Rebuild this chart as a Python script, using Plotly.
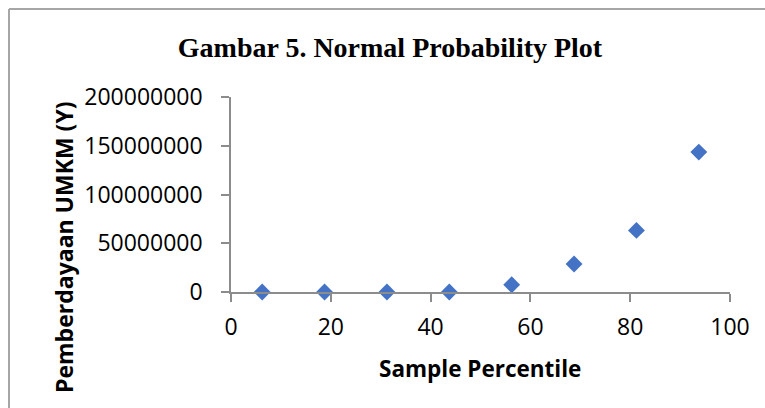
import plotly.graph_objects as go

# Data
percentiles = [6.25, 18.75, 31.25, 43.75, 56.25, 68.75, 81.25, 93.75]
values = [0, 0, 0, 0, 7500000, 28700000, 63200000, 143500000]
x_ticks = [0, 20, 40, 60, 80, 100]
y_ticks = [0, 50000000, 100000000, 150000000, 200000000]
y_tick_labels = ["0", "50000000", "100000000", "150000000", "200000000"]

W, H = 765, 408
# plot area in screen pixels: x 231..730, y 97..292
L, T = 231, 97
R = W - 730
B = H - 292
pw, ph = W - L - R, H - T - B

def sx(px):
    return (px - L) / pw

def sy(py):
    return (H - B - py) / ph

fig = go.Figure()
fig.add_trace(go.Scatter(
    x=percentiles, y=values, mode="markers",
    marker=dict(symbol="diamond", size=13, color="#4472C4",
                line=dict(width=0)),
    cliponaxis=False, showlegend=False,
))

axis_color = "#8c8c8c"
tick_font = dict(family="Open Sans", size=23, color="#000000")

fig.update_layout(
    width=W, height=H,
    margin=dict(l=L, r=R, t=T, b=B),
    paper_bgcolor="white", plot_bgcolor="white",
    title=dict(text="<b>Gambar 5. Normal Probability Plot</b>",
               font=dict(family="Liberation Serif", size=28, color="#000000"),
               x=390 / W, xanchor="center",
               y=1 - 47 / H, yanchor="middle"),
    xaxis=dict(range=[0, 100], tickvals=x_ticks, ticktext=[str(v) for v in x_ticks],
               showgrid=False, zeroline=False, showline=True,
               linecolor=axis_color, linewidth=1.5,
               ticks="outside", ticklen=8, tickcolor=axis_color, tickwidth=1.5,
               tickfont=tick_font, ticklabelstandoff=6),
    yaxis=dict(range=[0, 200000000], tickvals=y_ticks, ticktext=y_tick_labels,
               showgrid=False, zeroline=False, showline=True,
               linecolor=axis_color, linewidth=1.5,
               ticks="outside", ticklen=8, tickcolor=axis_color, tickwidth=1.5,
               tickfont=tick_font, ticklabelstandoff=14),
    annotations=[
        dict(text="<b>Sample Percentile</b>", xref="paper", yref="paper",
             x=sx(480), y=sy(368), xanchor="center", yanchor="middle",
             showarrow=False,
             font=dict(family="Open Sans", size=22.5, color="#000000")),
        dict(text="<b>Pemberdayaan UMKM (Y)</b>", xref="paper", yref="paper",
             x=sx(64), y=sy(247), xanchor="center", yanchor="middle",
             textangle=-90, showarrow=False,
             font=dict(family="Open Sans", size=23, color="#000000")),
    ],
    shapes=[
        dict(type="line", xref="paper", yref="paper",
             x0=sx(9), x1=sx(800), y0=sy(9), y1=sy(9),
             line=dict(color="#a6a6a6", width=2)),
        dict(type="line", xref="paper", yref="paper",
             x0=sx(9), x1=sx(9), y0=sy(9), y1=sy(430),
             line=dict(color="#a6a6a6", width=2)),
    ],
)

fig.write_html(
    "out.html",
    config={"displayModeBar": False},
    post_script="document.body.style.margin='0';document.body.style.overflow='hidden';"
                "document.documentElement.style.overflow='hidden';",
)
